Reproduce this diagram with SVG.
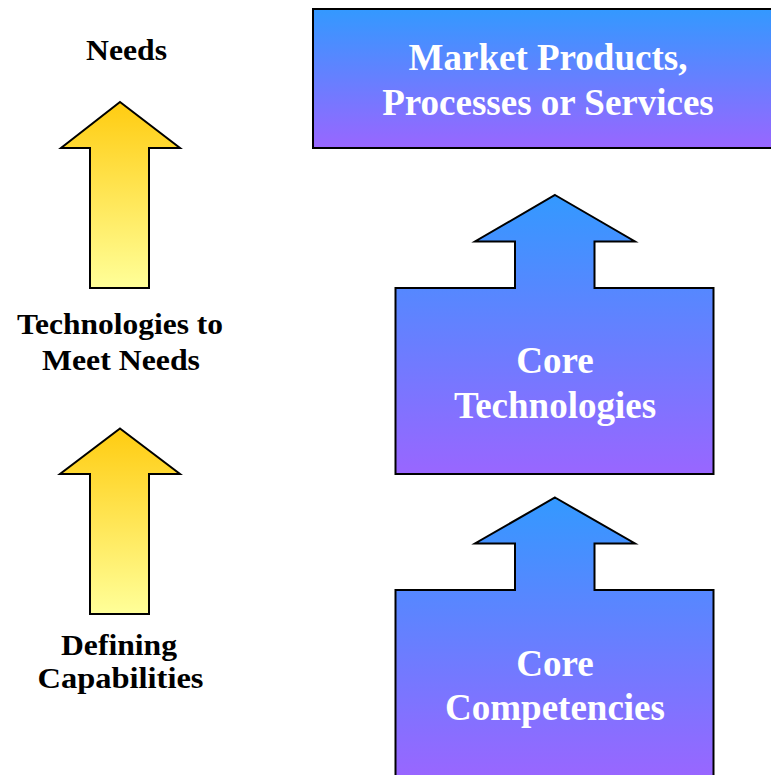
<svg xmlns="http://www.w3.org/2000/svg" width="771" height="775" viewBox="0 0 771 775">
<defs>
<linearGradient id="blue" x1="0" y1="0" x2="0" y2="1">
<stop offset="0" stop-color="#3399FF"/>
<stop offset="1" stop-color="#9966FF"/>
</linearGradient>
<linearGradient id="yellow" x1="0" y1="0" x2="0" y2="1">
<stop offset="0" stop-color="#FFCC11"/>
<stop offset="1" stop-color="#FFFF99"/>
</linearGradient>
<style>
.shape{stroke:#000;stroke-width:2;stroke-linejoin:miter}
.b{fill:url(#blue)}
.y{fill:url(#yellow)}
.wt{font-family:"Liberation Serif","Times New Roman",serif;font-weight:bold;font-size:37px;fill:#fff;text-anchor:middle}
.bt{font-family:"Liberation Serif","Times New Roman",serif;font-weight:bold;font-size:29px;fill:#000;text-anchor:middle}
</style>
</defs>
<g id="market">
<rect class="shape b" x="313" y="9" width="470" height="139"/>
<text class="wt" x="548" y="70">Market Products,</text>
<text class="wt" x="548" y="115">Processes or Services</text>
</g>
<g id="core-technologies">
<path class="shape b" d="M555,195 L635,241.5 L594.5,241.5 L594.5,288 L713.5,288 L713.5,474 L395.5,474 L395.5,288 L515,288 L515,241.5 L475,241.5 Z"/>
<text class="wt" x="555" y="373">Core</text>
<text class="wt" x="555" y="418">Technologies</text>
</g>
<g id="core-competencies">
<path class="shape b" d="M555,497.5 L635,543.5 L594.5,543.5 L594.5,590 L713.5,590 L713.5,777 L395.5,777 L395.5,590 L515,590 L515,543.5 L475,543.5 Z"/>
<text class="wt" x="555" y="676">Core</text>
<text class="wt" x="555" y="720">Competencies</text>
</g>
<g id="needs">
<text class="bt" x="126.5" y="60" textLength="81" lengthAdjust="spacingAndGlyphs">Needs</text>
</g>
<g id="arrow-top">
<path class="shape y" d="M120,102 L180,148 L149,148 L149,288 L90,288 L90,148 L61,148 Z"/>
</g>
<g id="tech-meet-needs">
<text class="bt" x="120" y="334" textLength="206" lengthAdjust="spacingAndGlyphs">Technologies to</text>
<text class="bt" x="121" y="370" textLength="158" lengthAdjust="spacingAndGlyphs">Meet Needs</text>
</g>
<g id="arrow-bottom">
<path class="shape y" d="M120,428.5 L180,474 L149,474 L149,614 L90,614 L90,474 L60,474 Z"/>
</g>
<g id="defining">
<text class="bt" x="119" y="655" textLength="116" lengthAdjust="spacingAndGlyphs">Defining</text>
<text class="bt" x="120.5" y="688" textLength="166" lengthAdjust="spacingAndGlyphs">Capabilities</text>
</g>
<g id="connectors"></g>
</svg>
